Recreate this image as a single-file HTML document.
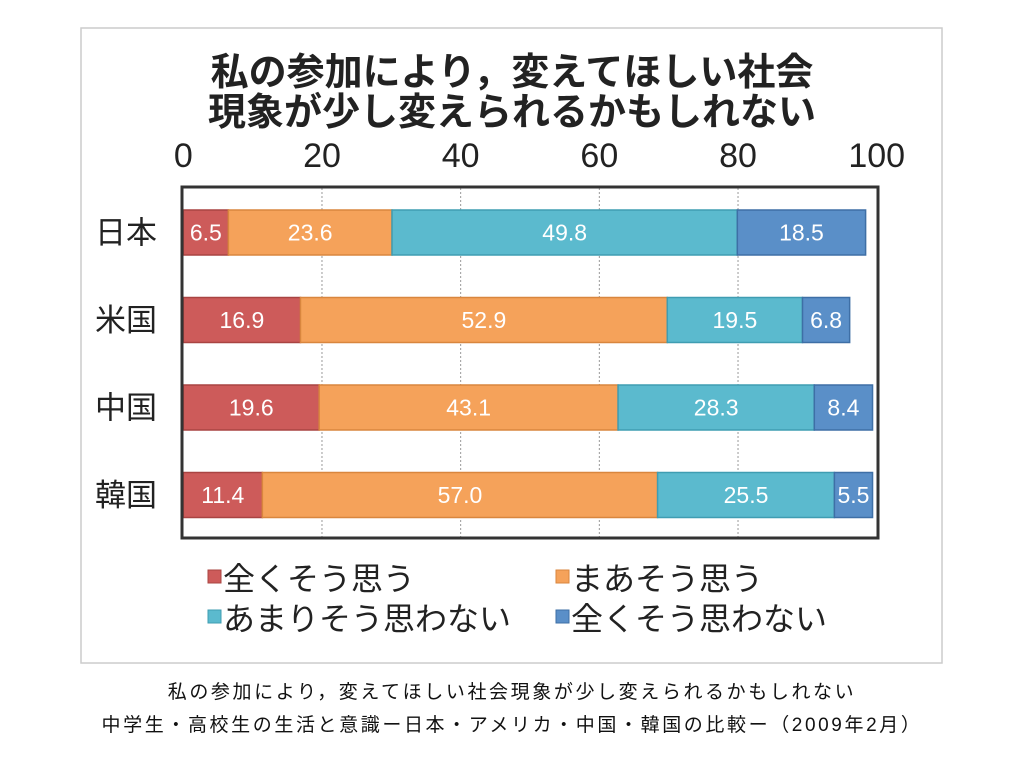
<!DOCTYPE html>
<html><head><meta charset="utf-8">
<style>
html,body{margin:0;padding:0;background:#fff;}
svg{display:block;}
text{font-family:"Liberation Sans","Noto Sans CJK JP",sans-serif;}
</style></head>
<body>
<svg id="chart" width="1024" height="768" viewBox="0 0 1024 768">
  <rect x="81" y="28" width="861" height="635" fill="#fff" stroke="#ccc" stroke-width="1.5"/>
  <text x="512" y="85" text-anchor="middle" font-size="38" font-weight="bold" fill="#222">私の参加により，変えてほしい社会</text>
  <text x="512" y="125" text-anchor="middle" font-size="38" font-weight="bold" fill="#222">現象が少し変えられるかもしれない</text>
  <g id="grid"></g>
  <g id="bars"></g>
  <rect x="182" y="187" width="696" height="351" fill="none" stroke="#333" stroke-width="3"/>
  <g id="legend"></g>
  <text x="512" y="698" text-anchor="middle" font-size="19" letter-spacing="2.6" fill="#111">私の参加により，変えてほしい社会現象が少し変えられるかもしれない</text>
  <text x="512" y="731" text-anchor="middle" font-size="19" letter-spacing="2.6" fill="#111">中学生・高校生の生活と意識ー日本・アメリカ・中国・韓国の比較ー（2009年2月）</text>
</svg>
<script>
const categories = ["日本","米国","中国","韓国"];
const seriesNames = ["全くそう思う","まあそう思う","あまりそう思わない","全くそう思わない"];
const strongYes = [6.5,16.9,19.6,11.4];
const someYes = [23.6,52.9,43.1,57.0];
const someNo = [49.8,19.5,28.3,25.5];
const strongNo = [18.5,6.8,8.4,5.5];
const ticks = [0,20,40,60,80,100];

const series = [strongYes,someYes,someNo,strongNo];
const fills = ["#cd5b5a","#f5a25a","#5bbace","#5a8fc8"];
const strokes = ["#a94442","#d9863e","#3f9db2","#3e6fa6"];
const NS = "http://www.w3.org/2000/svg";
const x0 = 183.3, xScale = 6.934;
const xPos = v => x0 + v * xScale;
const bandTop = 210, bandStep = 87.5, barH = 45;
const yPos = i => bandTop + i * bandStep;
function mk(tag, attrs, parent, txt){
  const e = document.createElementNS(NS, tag);
  for (const k in attrs) e.setAttribute(k, attrs[k]);
  if (txt !== undefined) e.textContent = txt;
  parent.appendChild(e);
  return e;
}
const grid = document.getElementById('grid');
const svg = document.getElementById('chart');
ticks.forEach(t => {
  if (t > 0 && t < 100) {
    const l = mk('line', {x1:xPos(t), x2:xPos(t), y1:188, y2:537, stroke:'#999', 'stroke-width':1, 'stroke-dasharray':'2,2'}, grid);
    
    
  }
  const tx = mk('text', {x:xPos(t), y:167, 'text-anchor':'middle', 'font-size':34, fill:'#222'}, svg, String(t));
  
  
});
const bars = document.getElementById('bars');
categories.forEach((c, i) => {
  const y = yPos(i);
  const lab = mk('text', {x:157, y:y + barH/2 + 11, 'text-anchor':'end', 'font-size':31, fill:'#222'}, svg, c);
  
  
  let cum = 0;
  series.forEach((s, j) => {
    const v = s[i];
    const r = mk('rect', {x:xPos(cum), y:y, width:v * xScale, height:barH, fill:fills[j], stroke:strokes[j], 'stroke-width':1.5}, bars);
    
    
    const t = mk('text', {x:xPos(cum + v/2), y:y + barH/2 + 8, 'text-anchor':'middle', 'font-size':23, fill:'#fff'}, bars, v.toFixed(1));
    
    
    cum += v;
  });
});
const legend = document.getElementById('legend');
const lpos = [[208,578],[556,578],[208,618],[556,618]];
seriesNames.forEach((n, j) => {
  const [lx, ly] = lpos[j];
  const sq = mk('rect', {x:lx, y:ly - 8, width:13, height:13, fill:fills[j], stroke:strokes[j], 'stroke-width':1}, legend);
  
  
  const t = mk('text', {x:lx + 15, y:ly + 12, 'font-size':32, fill:'#222'}, legend, n);
  
  
});
</script>
</body></html>
